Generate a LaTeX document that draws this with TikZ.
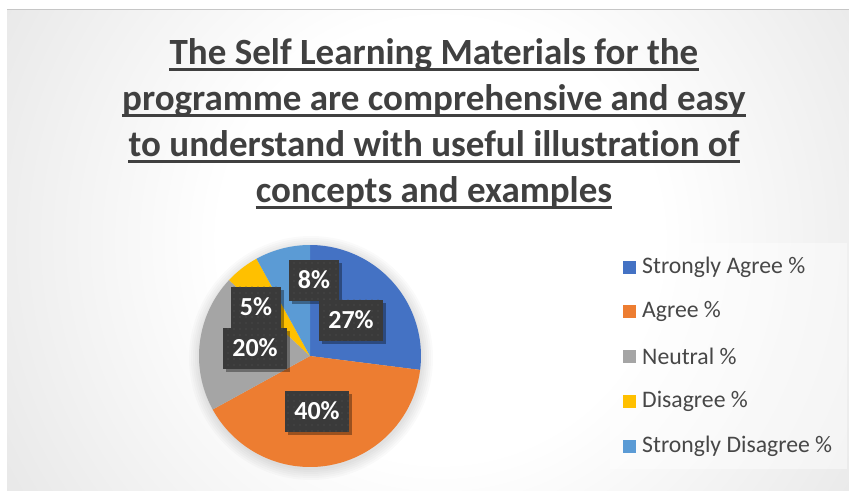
\documentclass[tikz,border=0pt]{standalone}
\usepackage{fontspec}
\setmainfont{Carlito}[Ligatures={NoCommon}]
\usetikzlibrary{shadows,patterns.meta}
\definecolor{cSA}{HTML}{4472C4}
\definecolor{cA}{HTML}{ED7D31}
\definecolor{cN}{HTML}{A5A5A5}
\definecolor{cD}{HTML}{FFC000}
\definecolor{cSD}{HTML}{5B9BD5}
\definecolor{titlegray}{HTML}{404040}
\definecolor{leggray}{HTML}{474747}
\definecolor{lblfill}{HTML}{3A3A3A}
\definecolor{lbldot}{HTML}{555555}
\definecolor{edgegray}{HTML}{C0C0C0}
\pgfdeclareradialshading{bgshade}{\pgfpoint{0bp}{0bp}}{color(0bp)=(white); color(11bp)=(white); color(50bp)=(edgegray); color(72bp)=(edgegray)}
\tikzset{
  titleline/.style={anchor=base, inner sep=0pt, text=titlegray, font=\fontsize{37}{44}\selectfont\bfseries},
  uline/.style={draw=titlegray, line width=2.3pt},
  pctbox/.style={fill=lblfill, text=white, font=\fontsize{26}{30}\selectfont\bfseries,
    inner xsep=9pt, minimum height=41pt,
    drop shadow={shadow xshift=3pt, shadow yshift=-3pt, opacity=0.35, fill=black},
    postaction={pattern={Dots[distance=6pt, radius=0.6pt]}, pattern color=lbldot}},
  legsq/.style={minimum size=13pt, inner sep=0pt},
  legtext/.style={anchor=west, inner sep=0pt, text=leggray, font=\fontsize{23.7}{28}\selectfont}
}
\begin{document}
\begin{tikzpicture}[x=1pt, y=-1pt]
\useasboundingbox (0,0) rectangle (849,491);
\fill[white] (0,0) rectangle (849,491);
% chart area with radial gradient
\begin{scope}
  \clip (7,9) rectangle (849,490);
  \shade[shading=bgshade] (-60,-260) rectangle (940,740);
\end{scope}
\draw[gray!45, line width=0.8pt] (7,9) -- (849,9);
% title
\node[titleline] (t1) at (434,64) {The Self Learning Materials for the};
\node[titleline] (t2) at (434,110) {programme are comprehensive and easy};
\node[titleline] (t3) at (434,156) {to understand with useful illustration of};
\node[titleline] (t4) at (434,202) {concepts and examples};
\foreach \t in {t1,t2,t3,t4}{
  \draw[uline] ([yshift=-5.5pt]\t.base west) -- ([yshift=-5.5pt]\t.base east);
}
% pie (explicit pt units: angles in canvas orientation)
\begin{scope}[shift={(310,356)}]
  \foreach \r in {122,120,118,116,114,112}{
    \fill[black, opacity=0.018] (1pt,-2pt) circle[radius=\r pt];
  }
  \fill[cSA] (0,0) -- (90:111pt) arc[start angle=90, end angle=-7.2, radius=111pt] -- cycle;
  \fill[cA] (0,0) -- (-7.2:111pt) arc[start angle=-7.2, end angle=-151.2, radius=111pt] -- cycle;
  \fill[cN] (0,0) -- (-151.2:111pt) arc[start angle=-151.2, end angle=-223.2, radius=111pt] -- cycle;
  \fill[cD] (0,0) -- (-223.2:111pt) arc[start angle=-223.2, end angle=-241.2, radius=111pt] -- cycle;
  \fill[cSD] (0,0) -- (-241.2:111pt) arc[start angle=-241.2, end angle=-270, radius=111pt] -- cycle;
\end{scope}
% data labels
\node[pctbox] (l8) at (314,280) {8\%};
\node[pctbox] (l5) at (256,307) {5\%};
\node[pctbox] (l27) at (351,320) {27\%};
\node[pctbox] (l20) at (255,348) {20\%};
\node[pctbox] (l40) at (317,411) {40\%};
% legend
\fill[white, opacity=0.45] (610,243) rectangle (847,469);
\node[legsq, fill=cSA] (s1) at (629,267) {};
\node[legsq, fill=cA] (s2) at (629,311) {};
\node[legsq, fill=cN] (s3) at (629,356) {};
\node[legsq, fill=cD] (s4) at (629,401) {};
\node[legsq, fill=cSD] (s5) at (629,446) {};
\node[legtext] (g1) at (642,267) {Strongly Agree \%};
\node[legtext] (g2) at (642,311) {Agree \%};
\node[legtext] (g3) at (642,356) {Neutral \%};
\node[legtext] (g4) at (642,401) {Disagree \%};
\node[legtext] (g5) at (642,446) {Strongly Disagree \%};
\end{tikzpicture}
\end{document}
